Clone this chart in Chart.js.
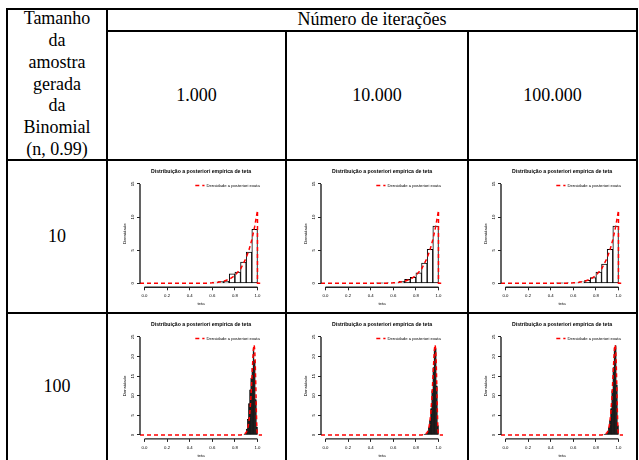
<!DOCTYPE html>
<html lang="pt">
<head>
<meta charset="utf-8">
<title>Distribuição a posteriori empírica de teta</title>
<script src="https://cdn.jsdelivr.net/npm/chart.js@4.4.1/dist/chart.umd.min.js"></script>
<style>
  body { margin: 0; width: 639px; height: 460px; overflow: hidden; background: #fff; position: relative;
         font-family: "Liberation Serif", "Times New Roman", serif; color: #000; }
  .ln { position: absolute; background: #000; z-index: 2; }
  .cell { position: absolute; display: flex; align-items: center; justify-content: center;
          text-align: center; font-size: 18px; line-height: 21.8px; }
  canvas { position: absolute; }
</style>
</head>
<body>
<!-- table rules -->
<div class="ln" style="left:6px;top:8px;width:632px;height:2px"></div>
<div class="ln" style="left:106px;top:30px;width:532px;height:2px"></div>
<div class="ln" style="left:6px;top:159px;width:632px;height:2px"></div>
<div class="ln" style="left:6px;top:312px;width:632px;height:2px"></div>
<div class="ln" style="left:6px;top:8px;width:2px;height:452px"></div>
<div class="ln" style="left:106px;top:8px;width:2px;height:452px"></div>
<div class="ln" style="left:285px;top:30px;width:2px;height:430px"></div>
<div class="ln" style="left:467px;top:30px;width:2px;height:430px"></div>
<div class="ln" style="left:636px;top:8px;width:2px;height:452px"></div>

<div class="cell" style="left:8px;top:10px;width:98px;height:149px">Tamanho<br>da<br>amostra<br>gerada<br>da<br>Binomial<br>(n, 0.99)</div>
<div class="cell" style="left:108px;top:10px;width:528px;height:20px">Número de iterações</div>
<div class="cell" style="left:108px;top:32px;width:177px;height:127px">1.000</div>
<div class="cell" style="left:287px;top:32px;width:180px;height:127px">10.000</div>
<div class="cell" style="left:469px;top:32px;width:167px;height:127px">100.000</div>
<div class="cell" style="left:8px;top:161px;width:98px;height:151px">10</div>
<div class="cell" style="left:8px;top:314px;width:98px;height:146px">100</div>

<canvas id="n10_1000" width="158" height="148" style="left:108px;top:161px"></canvas>
<canvas id="n10_10000" width="158" height="148" style="left:289px;top:161px"></canvas>
<canvas id="n10_100000" width="158" height="148" style="left:469px;top:161px"></canvas>
<canvas id="n100_1000" width="158" height="148" style="left:108px;top:314px"></canvas>
<canvas id="n100_10000" width="158" height="148" style="left:289px;top:314px"></canvas>
<canvas id="n100_100000" width="158" height="148" style="left:469px;top:314px"></canvas>

<script>
const xTicks = [0, 0.2, 0.4, 0.6, 0.8, 1.0];
const xTickLabels = ["0.0", "0.2", "0.4", "0.6", "0.8", "1.0"];

// amostra n = 10 (classes de 0.05)
const yTicksN10 = [0, 5, 10, 15];
const binsN10 = [0.475, 0.525, 0.575, 0.625, 0.675, 0.725, 0.775, 0.825, 0.875, 0.925, 0.975];
const histN10_1000 = [0, 0, 0, 0.2, 0.25, 0.3, 1.45, 1.7, 3.2, 4.7, 8.15];
const histN10_10000 = [0.01, 0.03, 0.05, 0.15, 0.3, 0.6, 0.9, 1.6, 3.05, 5.15, 8.65];
const histN10_100000 = [0.01, 0.02, 0.05, 0.1, 0.22, 0.45, 0.88, 1.68, 2.9, 5.15, 8.65];
const densXN10 = [-0.04, 0.45, 0.5, 0.55, 0.6, 0.65, 0.7, 0.75, 0.8, 0.85, 0.9, 0.925, 0.95, 0.975, 1.0, 1.0, 1.04];
const densYN10 = [0, 0, 0.01, 0.03, 0.07, 0.15, 0.31, 0.62, 1.18, 2.16, 3.84, 5.06, 6.59, 8.56, 11, 0, 0];

// amostra n = 100 (classes de 0.01)
const yTicksN100 = [0, 5, 10, 15, 20, 25];
const binsN100 = [0.875, 0.885, 0.895, 0.905, 0.915, 0.925, 0.935, 0.945, 0.955, 0.965, 0.975, 0.985, 0.995];
const histN100_1000 = [0, 0.1, 0.3, 1.5, 4, 8, 11.5, 14.5, 17, 22, 19, 9, 2];
const histN100_10000 = [0.1, 0.2, 0.4, 0.9, 1.9, 3.7, 6.7, 11.3, 17.2, 21.8, 22, 12.5, 2.4];
const histN100_100000 = [0.1, 0.2, 0.4, 0.9, 1.9, 3.7, 6.7, 11.3, 17.2, 22.2, 22.8, 12.8, 2.4];
const densXN100 = [-0.04, 0.85, 0.88, 0.9, 0.91, 0.92, 0.93, 0.94, 0.95, 0.96, 0.965, 0.97, 0.975, 0.98, 0.985, 0.99, 0.995, 1.0, 1.04];
const densYN100 = [0, 0, 0.1, 0.6, 1.3, 2.6, 4.9, 8.7, 14.1, 19.9, 22.1, 23, 21.9, 18.4, 12.7, 6.2, 1.3, 0, 0];

const titleText = "Distribuição a posteriori empírica de teta";
const legendText = "Densidade a posteriori exata";

Chart.defaults.font.family = "'Liberation Sans', Arial, sans-serif";
Chart.defaults.color = "#000";

// eixos no estilo do R (linha so entre o primeiro e o ultimo tick) + legenda
const rAxes = {
  id: "rAxes",
  afterDraw(chart, args, opts) {
    const { ctx, chartArea, scales } = chart;
    const yt = opts.yTicks;
    ctx.save();
    ctx.strokeStyle = "#222";
    ctx.lineWidth = 1.4;
    ctx.beginPath();
    ctx.moveTo(scales.x.getPixelForValue(xTicks[0]), chartArea.bottom);
    ctx.lineTo(scales.x.getPixelForValue(xTicks[xTicks.length - 1]), chartArea.bottom);
    ctx.moveTo(chartArea.left, scales.y.getPixelForValue(yt[0]));
    ctx.lineTo(chartArea.left, scales.y.getPixelForValue(yt[yt.length - 1]));
    ctx.stroke();

    const ly = chartArea.top + 5.5;
    ctx.strokeStyle = "#ff0000";
    ctx.lineWidth = 1.5;
    ctx.setLineDash([4, 3]);
    ctx.beginPath();
    ctx.moveTo(chartArea.right - 66.7, ly);
    ctx.lineTo(chartArea.right - 57.5, ly);
    ctx.stroke();
    ctx.setLineDash([]);
    ctx.fillStyle = "#000";
    ctx.font = "4.2px 'Liberation Sans', Arial, sans-serif";
    ctx.textAlign = "left";
    ctx.textBaseline = "middle";
    ctx.fillText(legendText, chartArea.right - 55.5, ly);
    ctx.restore();
  }
};

function histChart(id, bins, hist, densX, densY, yTicks, yMax, xh, dense) {
  const pad = yMax * 0.04;
  new Chart(document.getElementById(id), {
    type: "bar",
    data: {
      datasets: [
        {
          type: "line",
          label: legendText,
          data: densX.map((x, i) => ({ x: x, y: densY[i] })),
          borderColor: "#ff0000",
          borderWidth: 1.5,
          borderDash: [4, 3],
          pointRadius: 0,
          tension: 0,
          order: 0,
        },
        {
          label: "hist",
          data: bins.map((x, i) => ({ x: x, y: hist[i] })),
          backgroundColor: dense ? "#1a1a1a" : "#ffffff",
          borderColor: "#000",
          borderWidth: dense ? 0.4 : 1,
          borderSkipped: false,
          barPercentage: 1,
          categoryPercentage: 1,
          order: 1,
        },
      ],
    },
    options: {
      responsive: false,
      animation: false,
      events: [],
      layout: { padding: { left: 0, right: 4, top: 0, bottom: 0 }, autoPadding: false },
      scales: {
        x: {
          type: "linear",
          offset: false,
          min: -0.04,
          max: 1.04,
          afterBuildTicks: (s) => { s.ticks = xTicks.map((v) => ({ value: v })); },
          afterFit: (s) => { s.height = xh; },
          border: { display: false },
          grid: { offset: false, drawOnChartArea: false, tickLength: 3, color: "#222", lineWidth: 1 },
          ticks: {
            autoSkip: false,
            maxRotation: 0,
            padding: 3,
            font: { size: 4.3 },
            callback: (v, i) => xTickLabels[i],
          },
          title: { display: true, text: "teta", font: { size: 4.3, lineHeight: 1 }, padding: { top: 0, bottom: xh - 19.15 } },
        },
        y: {
          type: "linear",
          min: -pad,
          max: yMax + pad,
          afterBuildTicks: (s) => { s.ticks = yTicks.map((v) => ({ value: v })); },
          afterFit: (s) => { s.width = 32; },
          border: { display: false },
          grid: { drawOnChartArea: false, tickLength: 3, color: "#222", lineWidth: 1 },
          ticks: {
            minRotation: 90,
            maxRotation: 90,
            crossAlign: "center",
            padding: 2.2,
            font: { size: 4.3 },
          },
          title: { display: true, text: "Densidade", font: { size: 4.3, lineHeight: 1 }, padding: { top: 14.35, bottom: 0 } },
        },
      },
      plugins: {
        legend: { display: false },
        tooltip: { enabled: false },
        title: {
          display: true,
          text: titleText,
          fullSize: false,
          font: { size: 5.16, weight: "bold", lineHeight: 1 },
          padding: { top: 7.9, bottom: 5.94 },
        },
        rAxes: { yTicks: yTicks },
      },
    },
    plugins: [rAxes],
  });
}

histChart("n10_1000", binsN10, histN10_1000, densXN10, densYN10, yTicksN10, 15, 21.7, false);
histChart("n10_10000", binsN10, histN10_10000, densXN10, densYN10, yTicksN10, 15, 21.7, false);
histChart("n10_100000", binsN10, histN10_100000, densXN10, densYN10, yTicksN10, 15, 21.7, false);
histChart("n100_1000", binsN100, histN100_1000, densXN100, densYN100, yTicksN100, 25, 23.1, true);
histChart("n100_10000", binsN100, histN100_10000, densXN100, densYN100, yTicksN100, 25, 23.1, true);
histChart("n100_100000", binsN100, histN100_100000, densXN100, densYN100, yTicksN100, 25, 23.1, true);
</script>
</body>
</html>
